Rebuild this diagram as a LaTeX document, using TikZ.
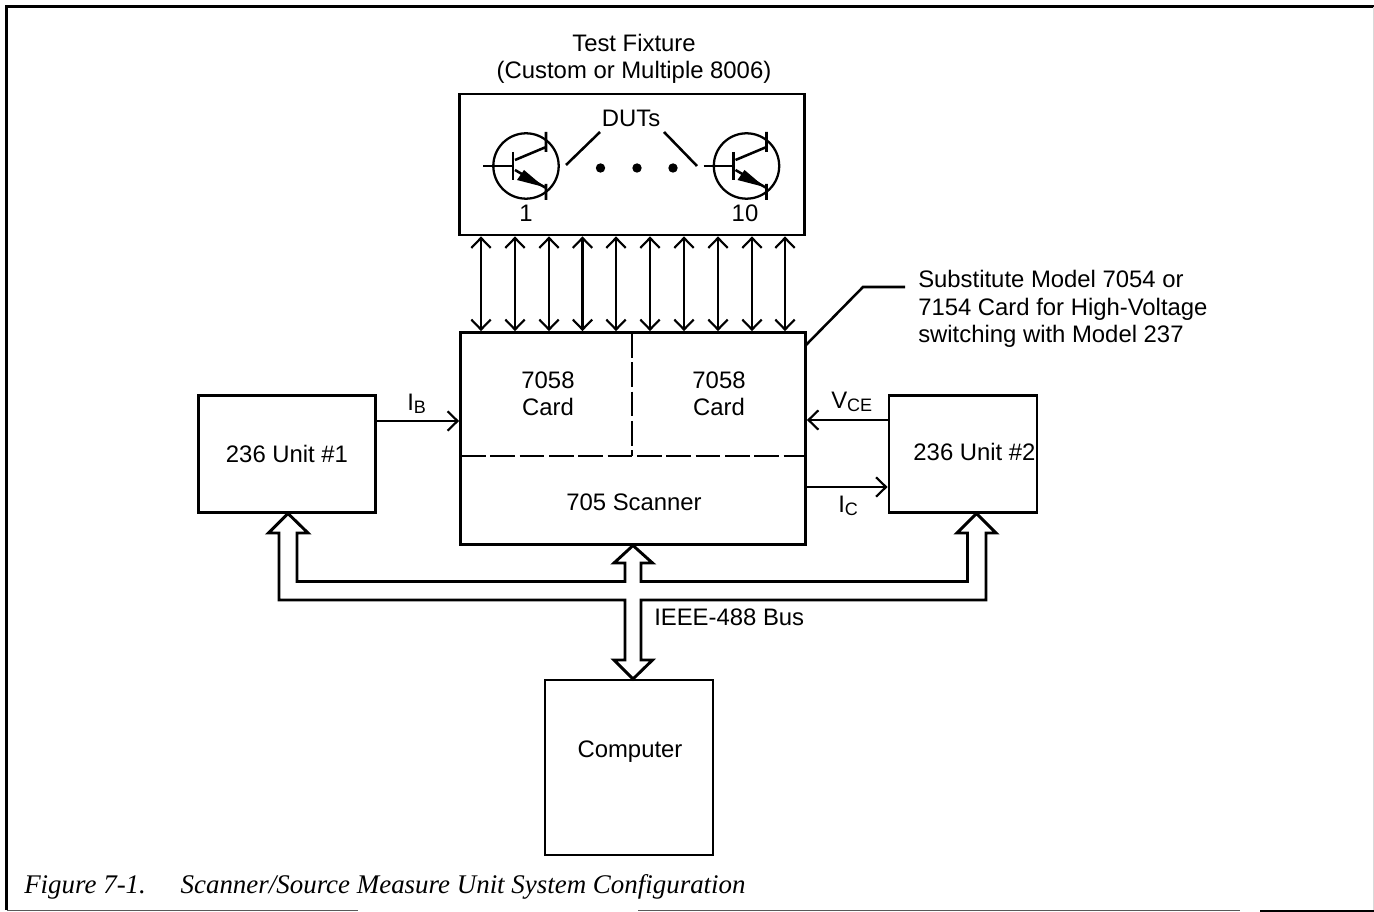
\documentclass[tikz,border=0pt]{standalone}
\usepackage{fontspec}
\setmainfont{Liberation Sans}
\newfontfamily\capfont{Liberation Serif}[ItalicFont=* Italic]
\usetikzlibrary{arrows.meta}
\tikzset{
  lab/.style={inner sep=0pt,font=\fontsize{17.9pt}{20.6pt}\selectfont,align=center},
  box/.style={draw,line width=2.1pt,inner sep=0pt},
  barb/.tip={Straight Barb[length=7.5pt,width=14.5pt,line width=1.6pt]},
  opena/.style={-barb,line width=1.7pt},
  both/.style={barb-barb,line width=1.8pt},
  fat/.style={line width=2.2pt,line join=miter},
  dividers/.style={line width=1.8pt,dash pattern=on 18.5pt off 3.5pt},
  lead/.style={line width=1.9pt},
  sublab/.style={lab,anchor=west}
}
\newcommand{\subl}[1]{\raisebox{-2.2pt}{\fontsize{13.5pt}{13.5pt}\selectfont #1}}
\newcommand{\bjt}[2]{%
  \draw[line width=1.7pt] (#1,#2) circle (32.7);
  \draw[lead] (#1-43,#2) -- (#1-13,#2);
  \draw[line width=2.2pt] (#1-13,#2-14) -- (#1-13,#2+14);
  \draw[lead] (#1-11,#2-6) -- (#1+20,#2-19) (#1+20,#2-34) -- (#1+20,#2-14);
  \draw[lead] (#1-11,#2+4) -- (#1+20,#2+22) (#1+20,#2+18) -- (#1+20,#2+34);
  \fill (#1-2,#2+4) -- (#1-9,#2+14) -- (#1+18,#2+21) -- cycle;
}
\begin{document}
\begin{tikzpicture}[x=0.75pt,y=-0.75pt]
\useasboundingbox (0,0) rectangle (1374,912);
% frame
\draw[line width=2.3pt] (6.5,910) -- (6.5,6.5) -- (1374,6.5);
\draw[line width=1.2pt,black!65] (6.5,910.5) -- (358,910.5) (638,910.5) -- (1240,910.5);
\draw[line width=1.5pt] (1260,910.5) -- (1374,910.5);
\draw[line width=0.5pt,black!15] (1373,7) -- (1373,910);
% boxes
\node[box,minimum width=345pt*0.75,minimum height=141pt*0.75] (fix) at (632,164.5) {};
\node[box,minimum width=345pt*0.75,minimum height=212pt*0.75] (scan) at (633,438.5) {};
\node[box,minimum width=177pt*0.75,minimum height=117pt*0.75] (u1) at (287,454) {};
\node[box,minimum width=148pt*0.75,minimum height=117pt*0.75] (u2) at (963,454) {};
\node[box,minimum width=168pt*0.75,minimum height=175pt*0.75] (pc) at (629,767.5) {};
% dashed dividers
\coordinate (dv1) at (632,333);
\coordinate (dv2) at (632,456);
\coordinate (dh1) at (461,456);
\coordinate (dh2) at (805,456);
\draw[dividers] (dv1) -- (dv2);
\draw[dividers] (dh1) -- (dh2);
% texts
\node[lab] (tf) at (634,59) {Test Fixture\\(Custom or Multiple 8006)};
\node[lab] (duts) at (631,118) {DUTs};
\node[lab] (n1) at (526,213) {1};
\node[lab] (n10) at (745,213) {10};
\node[lab] (c1) at (548,394) {7058\\Card};
\node[lab] (c2) at (719,394) {7058\\Card};
\node[lab] (sc) at (634,502) {705 Scanner};
\node[lab] (t1) at (287,454) {236 Unit \#1};
\node[lab] (t2) at (974.5,452) {236 Unit \#2};
\node[lab] (cp) at (630,752) {Computer};
\node[lab,anchor=west] (bus) at (654,617) {IEEE-488 Bus};
\node[lab,anchor=west,align=left] (sub) at (918,309) {Substitute Model 7054 or\\7154 Card for High-Voltage\\switching with Model 237};
\node[sublab] (ib) at (407,404) {I\subl{B}};
\node[sublab] (vce) at (831,402) {V\subl{CE}};
\node[sublab] (ic) at (838,506) {I\subl{C}};
\node[anchor=west,inner sep=0pt,font=\capfont\itshape\fontsize{20.2pt}{24pt}\selectfont] (cap) at (24,887) {Figure 7-1.\hspace{26pt}Scanner/Source Measure Unit System Configuration};
% transistors
\bjt{526}{166}
\bjt{746.5}{166}
\draw[lead] (566,165) -- (600,132);
\draw[lead] (664,132) -- (697,166);
\foreach \x in {600.5,637,673} \fill (\x,168) circle (4.7);
% bidirectional arrows
\foreach \x in {481,515,549,582.5,616,650,684,718,752,785}{
  \coordinate (tx) at (\x,300);
  \draw[both] (fix.south -| tx) -- (scan.north -| tx);
}
% signal arrows
\coordinate (yib) at (400,421);
\coordinate (yvce) at (850,420);
\coordinate (yic) at (850,487);
\draw[opena] (u1.east |- yib) -- (scan.west |- yib);
\draw[opena,line width=2pt] (u2.west |- yvce) -- (scan.east |- yvce);
\draw[opena] (scan.east |- yic) -- (u2.west |- yic);
% leader
\coordinate (ld) at (863,287);
\coordinate (lde) at (905,287);
\coordinate (lds) at (806,345);
\draw[lead] (lds) -- (ld) -- (lde);
% bus outline
\draw[fat] (297,581.5) -- (625,581.5) -- (625,563) -- (614,563) -- (633,545.5) -- (652.5,563) -- (641,563) -- (641,581.5) -- (967.5,581.5) -- (967.5,533) -- (957,533) -- (976.5,513.5) -- (996,533) -- (986,533) -- (986,600) -- (641,600) -- (641,660) -- (652.5,660) -- (633,679) -- (614,660) -- (625,660) -- (625,600) -- (279,600) -- (279,533) -- (268.5,533) -- (288,513.5) -- (308,533) -- (297,533) -- cycle;
\end{tikzpicture}
\end{document}
